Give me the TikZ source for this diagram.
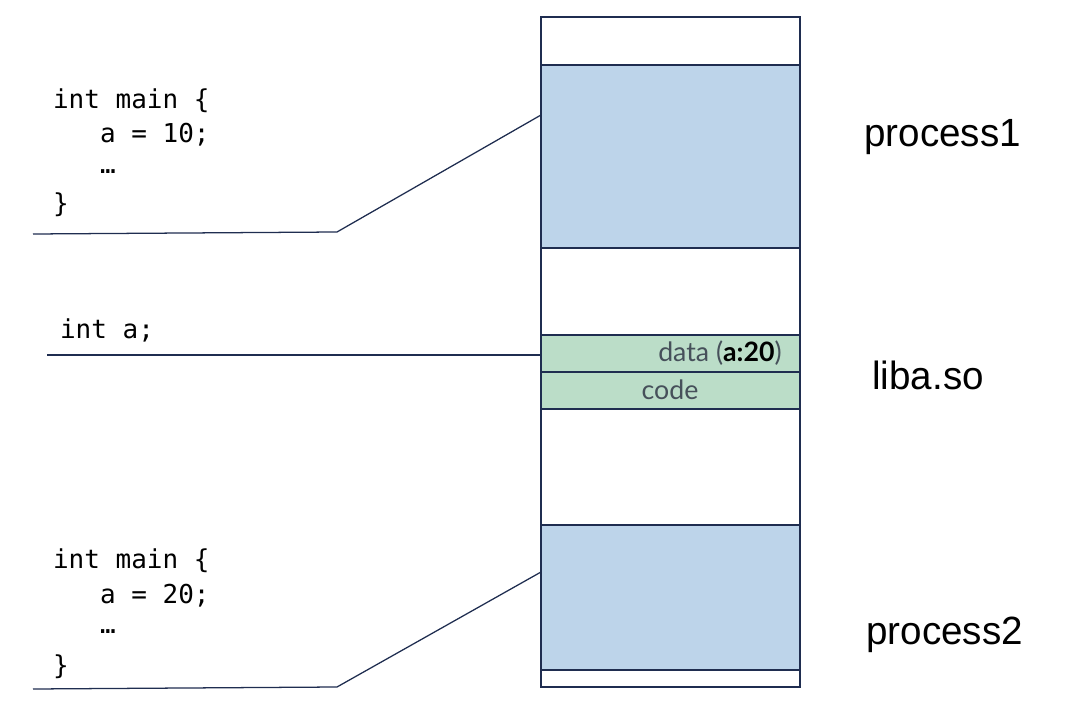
\documentclass[tikz,border=0pt]{standalone}
\usepackage{fontspec}
\setmainfont{Liberation Sans}
\newfontfamily\codefont{DejaVu Sans Mono}
\newfontfamily\labfont{Lato}
\usetikzlibrary{positioning}
\definecolor{navy}{RGB}{31,45,80}
\definecolor{procblue}{RGB}{189,212,234}
\definecolor{libgreen}{RGB}{187,221,200}
\definecolor{labgrey}{RGB}{70,80,90}
\begin{document}
\begin{tikzpicture}[x=0.025cm,y=-0.025cm,
	seg/.style={draw=navy,line width=2.1pt},
	code/.style={inner sep=0,outer sep=0,anchor=west,font=\codefont\fontsize{18.5}{20}\selectfont},
	big/.style={inner sep=0,anchor=west,font=\fontsize{28}{30}\selectfont,xscale=0.98},
	small/.style={inner sep=0,text=labgrey,font=\labfont\fontsize{19}{21}\selectfont}]
	\useasboundingbox (0,0) rectangle (1080,708);
	
	%Column
	\draw[seg] (541,17) rectangle (800,65);
	\draw[seg,fill=procblue] (541,65) rectangle (800,248);
	\draw[seg] (541,248) rectangle (800,335);
	\draw[seg,fill=libgreen] (541,335) rectangle (800,372);
	\draw[seg,fill=libgreen] (541,372) rectangle (800,409);
	\draw[seg] (541,409) rectangle (800,525);
	\draw[seg,fill=procblue] (541,525) rectangle (800,670);
	\draw[seg] (541,670) rectangle (800,687);
	\coordinate (p1) at (541,115);
	\coordinate (la) at (541,355);
	\coordinate (p2) at (541,572);
	
	%Texts
	\node[code] (m1) at (53,101) {int main \{};
	\node[code] (a1) at (100,135) {a = 10;};
	\node[code] (d1) at (100,172) {…};
	\node[code] (e1) at (53,205) {\}};
	\node[code] (ia) at (60,330) {int a;};
	\node[code] (m2) at (53,561) {int main \{};
	\node[code] (a2) at (100,596) {a = 20;};
	\node[code] (d2) at (100,632) {…};
	\node[code] (e2) at (53,667) {\}};
	\node[big] (n1) at (864,137) {process1};
	\node[big] (n2) at (872,375) {liba.so};
	\node[big] (n3) at (866,635) {process2};
	\node[small] (dat) at (720,353) {data (\textbf{\color{black}a:20})};
	\node[small] (cod) at (670,390) {code};
	
	%Lines
	\coordinate (u1) at (33,234);
	\coordinate (k1) at (337,232);
	\coordinate (u2) at (33,689);
	\coordinate (k2) at (337,687);
	\coordinate (ua) at (47,355);
	\draw[navy,line width=0.9pt] (u1) -- (k1) -- (p1);
	\draw[navy,line width=0.9pt] (ua) -- (la);
	\draw[navy,line width=0.9pt] (u2) -- (k2) -- (p2);
\end{tikzpicture}
\end{document}
